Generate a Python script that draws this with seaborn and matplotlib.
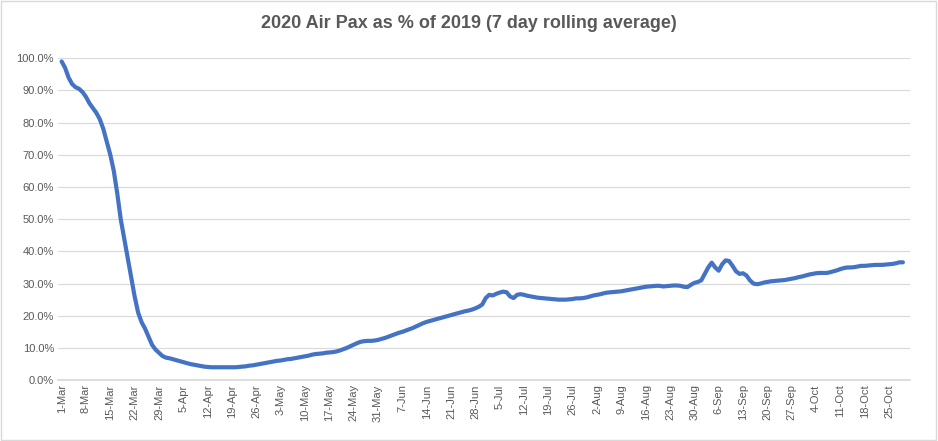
import matplotlib
matplotlib.use("Agg")
import matplotlib.pyplot as plt
import seaborn as sns
import pandas as pd
import numpy as np

start_date = "2020-03-01"
mar = [99,97,94,92,91,90.5,89.5,88,86,84.5,83,81,78,74,70,65,58,50,44,38,32,26,21,18,16,13.5,11,9.5,8.5,7.5,7.0]
apr = [6.8,6.5,6.2,5.9,5.6,5.3,5.0,4.8,4.6,4.4,4.2,4.1,4.0,4.0,4.0,4.0,4.0,4.0,4.0,4.0,4.1,4.2,4.3,4.5,4.6,4.8,5.0,5.2,5.4,5.6]
may = [5.8,6.0,6.1,6.3,6.5,6.6,6.8,7.0,7.2,7.4,7.6,7.9,8.1,8.2,8.3,8.5,8.6,8.7,8.9,9.2,9.6,10.0,10.5,11.0,11.5,11.9,12.1,12.2,12.2,12.3,12.5]
jun = [12.8,13.1,13.5,13.9,14.3,14.7,15.0,15.4,15.8,16.2,16.7,17.2,17.7,18.1,18.4,18.7,19.0,19.3,19.6,19.9,20.2,20.5,20.8,21.1,21.4,21.6,21.9,22.3,22.8,23.5]
jul = [25.5,26.5,26.3,26.8,27.2,27.5,27.3,26.0,25.5,26.5,26.7,26.5,26.2,26.0,25.8,25.6,25.5,25.4,25.3,25.2,25.1,25.0,25.0,25.0,25.1,25.2,25.4,25.4,25.5,25.7,26.0]
aug = [26.3,26.5,26.7,27.0,27.2,27.3,27.4,27.5,27.6,27.8,28.0,28.2,28.4,28.6,28.8,29.0,29.1,29.2,29.3,29.3,29.1,29.2,29.3,29.4,29.4,29.3,29.0,28.9,29.6,30.2,30.5]
sep = [31.0,33.0,35.0,36.5,35.0,34.0,36.0,37.2,37.0,35.5,33.8,33.0,33.2,32.5,31.0,30.0,29.8,30.0,30.3,30.5,30.7,30.8,30.9,31.0,31.1,31.3,31.5,31.7,32.0,32.2]
oct_ = [32.5,32.8,33.0,33.2,33.3,33.3,33.3,33.5,33.8,34.1,34.5,34.8,35.0,35.0,35.1,35.3,35.5,35.5,35.6,35.7,35.8,35.8,35.8,35.9,36.0,36.1,36.3,36.6,36.6]

values = mar + apr + may + jun + jul + aug + sep + oct_
dates = pd.date_range(start_date, periods=len(values), freq="D")
df = pd.DataFrame({"date": dates, "pct": np.array(values) / 100})

sns.set_theme(style="white")
plt.rcParams["font.family"] = ["Liberation Sans", "DejaVu Sans"]

fig = plt.figure(figsize=(9.38, 4.41), dpi=100)
ax = fig.add_axes([0.062, 0.138, 0.908, 0.73])
sns.lineplot(data=df, x="date", y="pct", ax=ax, color="#4472C4", linewidth=3)

ax.set_ylim(0, 1.0)
ax.set_yticks(np.arange(0, 1.01, 0.1))
ax.set_yticklabels([f"{v*100:.1f}%" for v in np.arange(0, 1.01, 0.1)], fontsize=8, color="#595959")
ticks = pd.date_range(start_date, dates[-1], freq="7D")
ax.set_xticks(ticks)
ax.set_xticklabels([f"{d.day}-{d.strftime('%b')}" for d in ticks], rotation=90, fontsize=8, color="#595959")
ax.set_xlim(dates[0] - pd.Timedelta(days=1), dates[-1] + pd.Timedelta(days=2))
ax.grid(axis="y", color="#D9D9D9", linewidth=0.8)
ax.set_xlabel("")
ax.set_ylabel("")
for s in ["top", "right", "left"]:
    ax.spines[s].set_visible(False)
ax.spines["bottom"].set_color("#D9D9D9")
ax.tick_params(axis="both", length=0, pad=3)
fig.suptitle("2020 Air Pax as % of 2019 (7 day rolling average)", y=0.965, fontsize=13, fontweight="bold", color="#595959")
fig.patches.append(plt.Rectangle((0.001, 0.002), 0.997, 0.995, transform=fig.transFigure, fill=False, edgecolor="#D9D9D9", linewidth=1))
fig.savefig("out.png", dpi=100)
